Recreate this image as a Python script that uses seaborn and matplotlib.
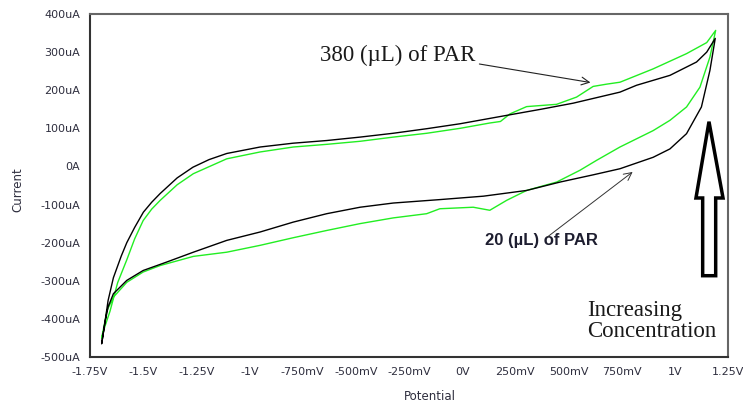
import numpy as np
import pandas as pd
import matplotlib
matplotlib.use('Agg')
import matplotlib.pyplot as plt
from matplotlib.patches import Polygon
import seaborn as sns

# Cyclic voltammogram data (potential in V, current in uA)
# black trace (20 uL of PAR) - forward / upper branch
v_black_fwd = [-1.695, -1.68, -1.665, -1.64, -1.603, -1.577, -1.54, -1.499, -1.46, -1.42,
               -1.34, -1.266, -1.19, -1.107, -0.95, -0.795, -0.637, -0.48, -0.325, -0.167,
               -0.01, 0.209, 0.37, 0.522, 0.742, 0.82, 0.977, 1.102, 1.15, 1.19]
i_black_fwd = [-465, -410, -352, -292, -235, -200, -160, -120, -94, -71,
               -30, -2, 18, 34, 51, 61, 68, 77, 87, 99,
               112, 134, 150, 166, 195, 213, 239, 274, 300, 336]
# black trace - reverse / lower branch
v_black_rev = [1.19, 1.165, 1.125, 1.055, 0.977, 0.898, 0.742, 0.616, 0.46, 0.303, 0.1,
               -0.105, -0.324, -0.48, -0.637, -0.794, -0.95, -1.107, -1.264, -1.39, -1.5,
               -1.577, -1.64, -1.665, -1.68, -1.695]
i_black_rev = [336, 252, 156, 86, 46, 24, -6, -22, -41, -63, -78,
               -87, -96, -107, -124, -146, -172, -194, -225, -251, -273,
               -299, -334, -369, -410, -465]

# green trace (380 uL of PAR)
v_green_fwd = [-1.695, -1.68, -1.656, -1.62, -1.577, -1.54, -1.5, -1.46, -1.42, -1.34,
               -1.264, -1.107, -0.95, -0.794, -0.637, -0.48, -0.324, -0.167, -0.01, 0.13,
               0.18, 0.225, 0.303, 0.444, 0.538, 0.616, 0.68, 0.742, 0.898, 1.055, 1.15, 1.192]
i_green_fwd = [-450, -420, -380, -305, -245, -190, -142, -112, -89, -48,
               -19, 20, 38, 51, 58, 66, 77, 87, 100, 114,
               118, 138, 157, 163, 182, 210, 216, 221, 256, 296, 325, 357]
v_green_rev = [1.192, 1.165, 1.118, 1.055, 0.977, 0.898, 0.742, 0.632, 0.554, 0.444,
               0.303, 0.209, 0.13, 0.052, -0.105, -0.167, -0.324, -0.48, -0.637, -0.794,
               -0.95, -1.107, -1.264, -1.42, -1.5, -1.577, -1.64, -1.67, -1.695]
i_green_rev = [357, 287, 208, 156, 121, 94, 51, 16, -10, -41,
               -63, -89, -115, -107, -111, -124, -135, -150, -168, -187,
               -207, -225, -236, -260, -277, -304, -343, -378, -450]

x_ticks = [-1.75, -1.5, -1.25, -1.0, -0.75, -0.5, -0.25, 0.0, 0.25, 0.5, 0.75, 1.0, 1.25]
x_tick_labels = ['-1.75V', '-1.5V', '-1.25V', '-1V', '-750mV', '-500mV', '-250mV',
                 '0V', '250mV', '500mV', '750mV', '1V', '1.25V']
y_ticks = [400, 300, 200, 100, 0, -100, -200, -300, -400, -500]
y_tick_labels = ['400uA', '300uA', '200uA', '100uA', '0A', '-100uA', '-200uA',
                 '-300uA', '-400uA', '-500uA']

black = pd.DataFrame({'potential': v_black_fwd + v_black_rev,
                      'current': i_black_fwd + i_black_rev})
green = pd.DataFrame({'potential': v_green_fwd + v_green_rev,
                      'current': i_green_fwd + i_green_rev})

sns.set_style('white')
plt.rcParams['font.family'] = ['DejaVu Sans']

fig = plt.figure(figsize=(7.43, 4.05), dpi=100)
ax = fig.add_axes([90 / 743, 1 - 357 / 405, 638 / 743, 343 / 405])

sns.lineplot(data=green, x='potential', y='current', sort=False, estimator=None,
             color='#22ee22', lw=1.0, ax=ax)
sns.lineplot(data=black, x='potential', y='current', sort=False, estimator=None,
             color='#000000', lw=1.0, ax=ax)

ax.set_xlim(-1.75, 1.25)
ax.set_ylim(-500, 400)
ax.set_xticks(x_ticks)
ax.set_xticklabels(x_tick_labels)
ax.set_yticks(y_ticks)
ax.set_yticklabels(y_tick_labels)
ax.tick_params(direction='out', length=5, width=1, color='#444444',
               labelsize=8, labelcolor='#2e2e3e', pad=2)

ax.set_xlabel('Potential', fontsize=8.5, color='#2e2e3e')
ax.set_ylabel('Current', fontsize=8.5, color='#2e2e3e')
ax.xaxis.set_label_coords(0.533, -0.095)
ax.yaxis.set_label_coords(-0.103, 0.487)

for side in ['left', 'bottom']:
    ax.spines[side].set_color('#333333')
    ax.spines[side].set_linewidth(1.5)
for side in ['top', 'right']:
    ax.spines[side].set_color('#666666')
    ax.spines[side].set_linewidth(1.5)

# annotations
ax.text(-0.669, 291, '380 (\u00b5L) of PAR', fontsize=16.5, family='Liberation Serif',
        color='#1a1a1a', va='center', ha='left')
ax.annotate('', xy=(0.616, 219), xytext=(0.068, 270),
            arrowprops=dict(arrowstyle='->', color='#222222', lw=0.8, mutation_scale=14))

ax.text(0.107, -194, '20 (\u00b5L) of PAR', fontsize=12, family='Liberation Sans',
        fontweight='bold', color='#1e1e30', va='center', ha='left')
ax.annotate('', xy=(0.812, -10), xytext=(0.389, -190),
            arrowprops=dict(arrowstyle='->', color='#333333', lw=0.7, mutation_scale=14))

ax.text(0.779, 0.105, 'Increasing\nConcentration', transform=ax.transAxes,
        fontsize=16.5, family='Liberation Serif', color='#1a1a1a',
        va='center', ha='left', linespacing=1.0)

# hollow "increasing" arrow
arrow_pts = [(0.9702, 0.686), (0.9922, 0.4636), (0.9807, 0.4636), (0.9807, 0.237),
             (0.9603, 0.237), (0.9603, 0.4636), (0.9498, 0.4636)]
ax.add_patch(Polygon(arrow_pts, closed=True, transform=ax.transAxes,
                     facecolor='white', edgecolor='black', lw=2.5, zorder=5))

fig.savefig('out.png', dpi=100)
